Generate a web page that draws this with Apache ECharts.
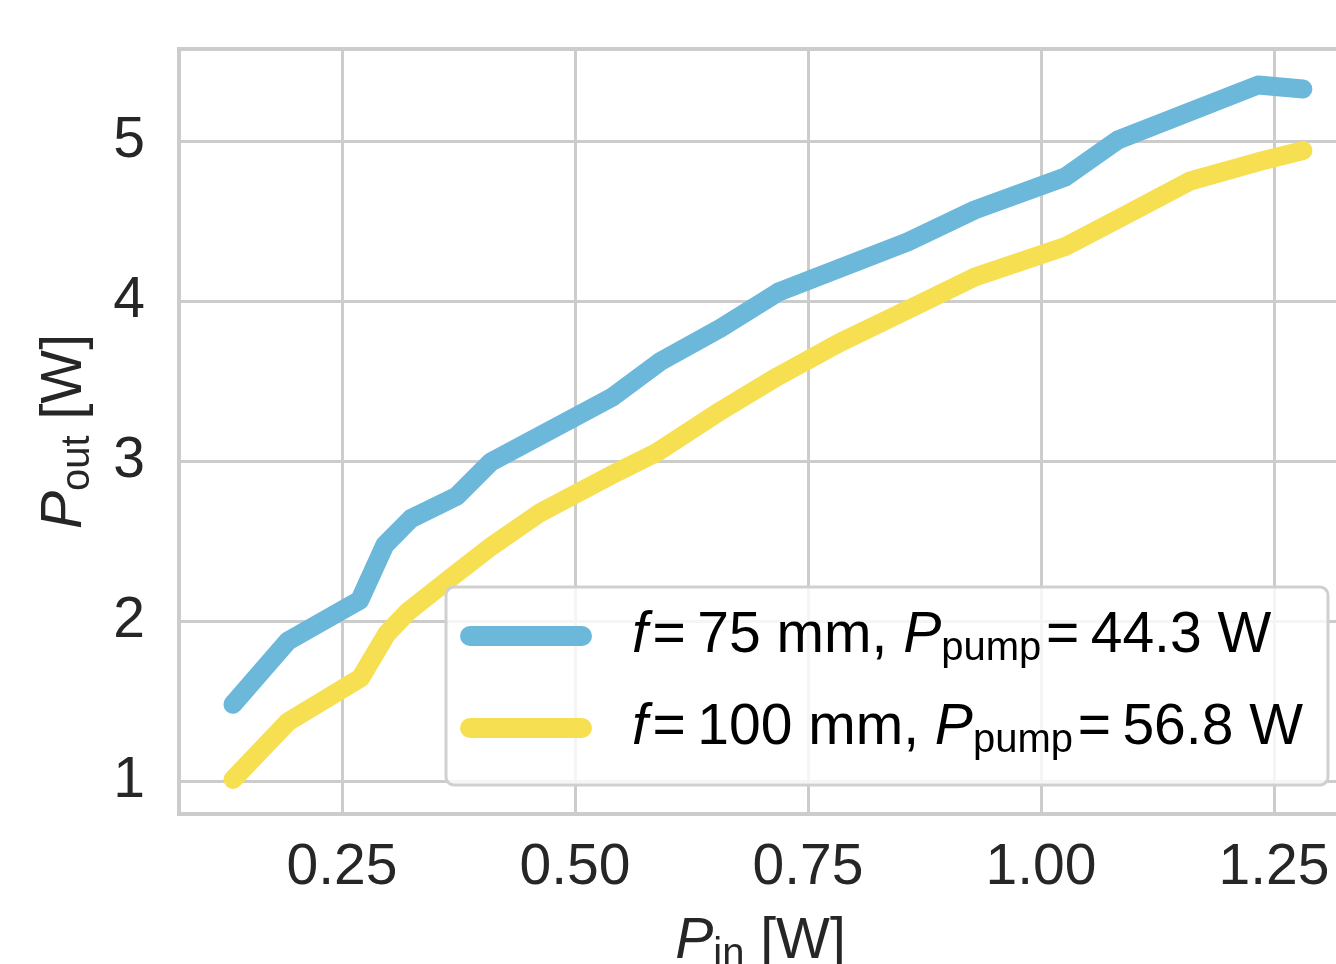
<!DOCTYPE html>
<html>
<head>
<meta charset="utf-8">
<script src="https://cdn.jsdelivr.net/npm/echarts@6/dist/echarts.min.js"></script>
<style>
  html, body { margin: 0; padding: 0; background: #fff; }
  #chart { width: 1336px; height: 964px; }
</style>
</head>
<body>
<div id="chart"></div>
<script>
// P_in [W] -> P_out [W]
const pinBlue = [0.133, 0.192, 0.269, 0.296, 0.324, 0.373, 0.410, 0.540, 0.591, 0.656, 0.718, 0.857, 0.929, 1.026, 1.082, 1.233, 1.281];
const poutBlue = [1.48, 1.875, 2.13, 2.475, 2.64, 2.78, 2.995, 3.40, 3.62, 3.83, 4.055, 4.37, 4.57, 4.775, 5.005, 5.35, 5.325];
const pinYellow = [0.133, 0.192, 0.270, 0.298, 0.321, 0.371, 0.411, 0.462, 0.545, 0.588, 0.658, 0.718, 0.784, 0.857, 0.929, 1.026, 1.085, 1.160, 1.233, 1.281];
const poutYellow = [1.01, 1.37, 1.645, 1.92, 2.06, 2.29, 2.47, 2.675, 2.93, 3.055, 3.32, 3.53, 3.74, 3.945, 4.15, 4.34, 4.52, 4.75, 4.87, 4.94];

const xTicks = [0.25, 0.5, 0.75, 1.0, 1.25];
const yTicks = [1, 2, 3, 4, 5];
const seriesNames = ["f75", "f100"];
const legendLabels = [
  "{it|f}\u200a=\u200975 mm, {it|P}{sub|pump}\u200a=\u200944.3 W",
  "{it|f}\u200a=\u2009100 mm, {it|P}{sub|pump}\u200a=\u200956.8 W",
];
const colors = ["#6cb8da", "#f7df52"];

const font = "'Liberation Sans', Arial, sans-serif";
const txt = "#262626";
const gridColor = "#cccccc";

function pairs(xs, ys) {
  return xs.map((x, i) => [x, ys[i]]);
}

function richFor(color, size, subSize) {
  return {
    it: { fontStyle: "italic", fontSize: size, lineHeight: 64, fontFamily: font, color: color },
    sub: { fontSize: subSize, lineHeight: 64, padding: [26, 0, 0, 0], fontFamily: font, color: color },
  };
}

const chart = echarts.init(document.getElementById("chart"));

chart.setOption({
  animation: false,
  grid: {
    left: 179,
    top: 49,
    width: 1163,
    height: 765,
    outerBoundsMode: "none",
    containLabel: false,
    show: true,
    borderColor: gridColor,
    borderWidth: 4,
  },
  xAxis: {
    type: "value",
    min: 0.0751,
    max: 1.3229,
    axisLine: { show: false },
    axisTick: { show: false, customValues: xTicks },
    axisLabel: {
      customValues: xTicks,
      formatter: (v) => v.toFixed(2),
      fontSize: 57,
      fontFamily: font,
      color: txt,
      margin: 26,
    },
    splitLine: { show: true, lineStyle: { color: gridColor, width: 3 } },
    name: "{it|P}{sub|in} [W]",
    nameLocation: "middle",
    nameGap: 96,
    nameTextStyle: {
      fontSize: 57,
      fontFamily: font,
      color: txt,
      lineHeight: 64,
      rich: richFor(txt, 57, 40),
    },
  },
  yAxis: {
    type: "value",
    min: 0.794,
    max: 5.575,
    axisLine: { show: false },
    axisTick: { show: false, customValues: yTicks },
    axisLabel: {
      customValues: yTicks,
      fontSize: 57,
      fontFamily: font,
      color: txt,
      margin: 34,
    },
    splitLine: { show: true, lineStyle: { color: gridColor, width: 3 } },
    name: "{it|P}{sub|out} [W]",
    nameLocation: "middle",
    nameGap: 82,
    nameTextStyle: {
      fontSize: 57,
      fontFamily: font,
      color: txt,
      lineHeight: 64,
      rich: richFor(txt, 57, 40),
    },
  },
  legend: {
    orient: "vertical",
    left: 446,
    top: 587,
    padding: [16, 25, 24, 14],
    itemGap: 26,
    itemWidth: 132,
    itemHeight: 20,
    icon: "path://M10,0 L122,0 A10,10 0 0 1 122,20 L10,20 A10,10 0 0 1 10,0 Z",
    backgroundColor: "rgba(255,255,255,0.8)",
    borderColor: "#d0d0d0",
    borderWidth: 3,
    borderRadius: 8,
    data: seriesNames,
    formatter: (name) => legendLabels[seriesNames.indexOf(name)],
    textStyle: {
      fontSize: 57,
      fontFamily: font,
      color: "#000",
      lineHeight: 64,
      padding: [0, 0, 0, 35],
      rich: richFor("#000", 57, 40),
    },
  },
  series: [
    {
      name: seriesNames[0],
      type: "line",
      data: pairs(pinBlue, poutBlue),
      showSymbol: false,
      symbol: "none",
      color: colors[0],
      lineStyle: { width: 19, color: colors[0], cap: "round", join: "round" },
    },
    {
      name: seriesNames[1],
      type: "line",
      data: pairs(pinYellow, poutYellow),
      showSymbol: false,
      symbol: "none",
      color: colors[1],
      lineStyle: { width: 19, color: colors[1], cap: "round", join: "round" },
    },
  ],
});
</script>
</body>
</html>
